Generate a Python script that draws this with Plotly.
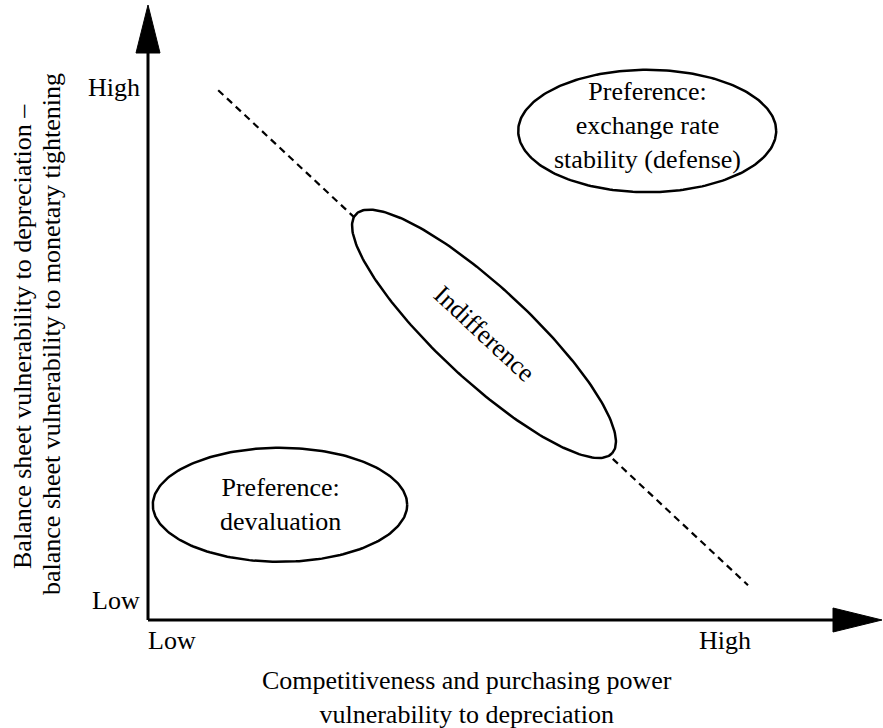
import numpy as np
import plotly.graph_objects as go

# Conceptual diagram data (axis units: 0 = Low, ~10 = High)
x_tick_labels = ["Low", "High"]
x_tick_pos = [0.4, 9.62]
y_tick_labels = ["Low", "High"]
y_tick_pos = [0.33, 8.88]

region_labels = ["Preference:<br>devaluation", "Indifference",
                 "Preference:<br>exchange rate<br>stability (defense)"]
region_x = [2.2, 5.6, 8.32]
region_y = [1.92, 4.77, 8.15]
region_rx = [2.12, 2.92, 2.15]
region_ry = [0.95, 0.77, 1.02]
region_angle = [0, -43, 0]

indiff_line_x = [1.17, 10.0]
indiff_line_y = [8.83, 0.58]

x_title = "Competitiveness and purchasing power<br>vulnerability to depreciation"
y_title_lines = ["Balance sheet vulnerability to depreciation –",
                 "balance sheet vulnerability to monetary tightening"]

FONT = "Liberation Serif, Times New Roman, serif"
FS = 26
W, H = 883, 728
PX = 60.0  # pixels per unit
X0, Y0 = 148, 620  # origin pixel
xr = [-X0 / PX, (W - X0) / PX]
yr = [-(H - Y0) / PX, Y0 / PX]
label_yshift = [0, 0, 6]

fig = go.Figure()

# dashed indifference line
fig.add_trace(go.Scatter(x=indiff_line_x, y=indiff_line_y, mode="lines",
                         line=dict(color="black", width=2.2, dash="7px,5px"),
                         hoverinfo="skip", showlegend=False))

# ellipses
for lab, cx, cy, rx, ry, ang, ys in zip(region_labels, region_x, region_y,
                                        region_rx, region_ry, region_angle,
                                        label_yshift):
    t = np.linspace(0, 2 * np.pi, 240)
    a = np.deg2rad(ang)
    ex = cx + rx * np.cos(t) * np.cos(a) - ry * np.sin(t) * np.sin(a)
    ey = cy + rx * np.cos(t) * np.sin(a) + ry * np.sin(t) * np.cos(a)
    fig.add_trace(go.Scatter(x=ex, y=ey, mode="lines", fill="toself",
                             fillcolor="white",
                             line=dict(color="black", width=2.5),
                             hoverinfo="skip", showlegend=False))
    fig.add_annotation(x=cx, y=cy, text=lab, showarrow=False,
                       textangle=-ang, yshift=ys,
                       font=dict(family=FONT, size=FS, color="black"))

# axes lines with arrowheads
ax_len_y = (Y0 - 50) / PX
fig.add_shape(type="line", x0=0, y0=0, x1=0, y1=ax_len_y,
              line=dict(color="black", width=3))
fig.add_shape(type="line", x0=0, y0=0, x1=(835 - X0) / PX, y1=0,
              line=dict(color="black", width=3))
tip_y = (Y0 - 5) / PX
base_y = (Y0 - 53) / PX
hw = 12 / PX
fig.add_shape(type="path",
              path=f"M {-hw} {base_y} L 0 {tip_y} L {hw} {base_y} Z",
              fillcolor="black", line=dict(color="black", width=1))
tip_x = (882 - X0) / PX
base_x = (833 - X0) / PX
fig.add_shape(type="path",
              path=f"M {base_x} {hw} L {tip_x} 0 L {base_x} {-hw} Z",
              fillcolor="black", line=dict(color="black", width=1))

# tick labels
for lab, xp in zip(x_tick_labels, x_tick_pos):
    fig.add_annotation(x=xp, y=-20 / PX, text=lab, showarrow=False,
                       xanchor="center", yanchor="middle",
                       font=dict(family=FONT, size=FS, color="black"))
for lab, yp in zip(y_tick_labels, y_tick_pos):
    fig.add_annotation(x=-6 / PX, y=yp, text=lab, showarrow=False,
                       xanchor="right", yanchor="middle",
                       font=dict(family=FONT, size=FS, color="black"))

# axis titles
fig.add_annotation(x=(467 - X0) / PX, y=-(697 - Y0) / PX, text=x_title,
                   showarrow=False, xanchor="center", yanchor="middle",
                   font=dict(family=FONT, size=FS, color="black"))
y_title_centers = [337, 334]
y_title_xs = [22, 51]
for line, xc, yc in zip(y_title_lines, y_title_xs, y_title_centers):
    fig.add_annotation(x=(xc - X0) / PX, y=(Y0 - yc) / PX, text=line,
                       showarrow=False, textangle=-90,
                       xanchor="center", yanchor="middle",
                       font=dict(family=FONT, size=FS, color="black"))

fig.update_layout(
    width=W, height=H,
    margin=dict(l=0, r=0, t=0, b=0),
    plot_bgcolor="white", paper_bgcolor="white",
    xaxis=dict(range=xr, visible=False, fixedrange=True),
    yaxis=dict(range=yr, visible=False, fixedrange=True),
    showlegend=False,
)

fig.write_html("out.html", config={"displayModeBar": False},
               post_script="document.body.style.margin='0';")
